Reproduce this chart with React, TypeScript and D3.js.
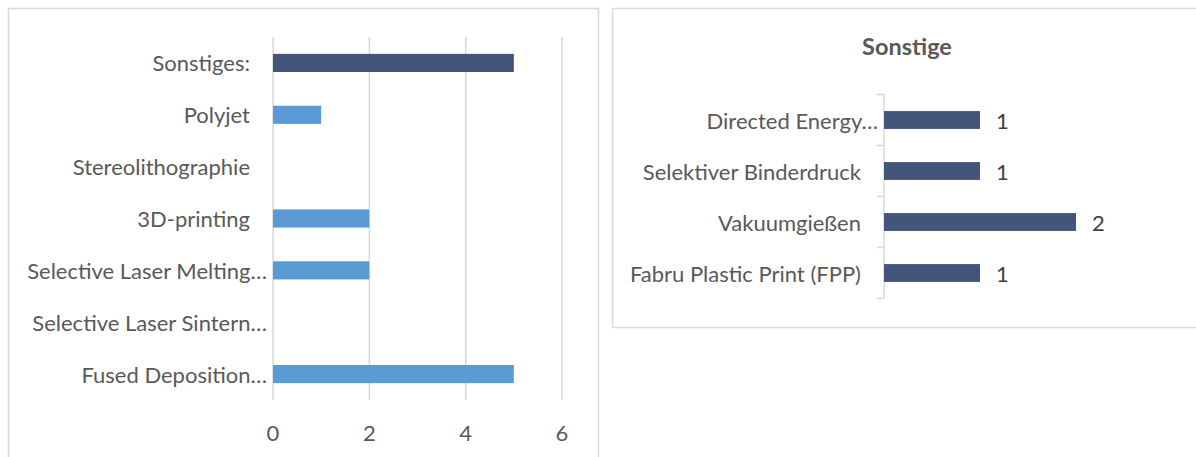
import React from 'react';
import * as d3 from 'd3';

// left chart
const techCategories = [
  'Sonstiges:',
  'Polyjet',
  'Stereolithographie',
  '3D-printing',
  'Selective Laser Melting…',
  'Selective Laser Sintern…',
  'Fused Deposition…',
];
const techValues = [5, 1, 0, 2, 2, 0, 5];
const techTicks = [0, 2, 4, 6];

// right chart
const otherCategories = [
  'Directed Energy…',
  'Selektiver Binderdruck',
  'Vakuumgießen',
  'Fabru Plastic Print (FPP)',
];
const otherValues = [1, 1, 2, 1];

const FONT = 'Lato, Carlito, Calibri, sans-serif';
const BORDER = '#d9d9d9';
const TEXT = '#595959';
const DARK = '#43557b';
const LIGHT = '#5b9bd5';
const FS = 22;

// truncated labels sit a bit further right, like Excel does it
const labelEnd = (c: string, axisX: number) => (c.endsWith('…') ? axisX - 6 : axisX - 23);

function App() {
  const x1 = d3.scaleLinear().domain([0, 6]).range([273, 562]);
  const y1 = d3
    .scaleBand()
    .domain(techCategories)
    .range([37, 400])
    .paddingInner(0.65)
    .paddingOuter(0.325);

  const x2 = d3.scaleLinear().domain([0, 2]).range([884, 1076]);
  const y2 = d3
    .scaleBand()
    .domain(otherCategories)
    .range([94.5, 298.5])
    .paddingInner(0.65)
    .paddingOuter(0.325);
  const bandEdges = otherCategories.map((c) => (y2(c) as number) - (y2.step() - y2.bandwidth()) / 2);
  bandEdges.push(298.5);

  return (
    <svg
      width={1196}
      height={457}
      style={{ position: 'absolute', left: 0, top: 0, background: '#fff' }}
      fontFamily={FONT}
    >
      {/* left chart frame */}
      <rect x={8.5} y={8.5} width={590} height={470} fill="#fff" stroke={BORDER} strokeWidth={1.5} />

      {techTicks.map((t) => (
        <line key={'g' + t} x1={x1(t)} x2={x1(t)} y1={37} y2={400} stroke={BORDER} strokeWidth={1.5} />
      ))}
      {techTicks.map((t) => (
        <text key={'t' + t} x={x1(t)} y={432} textAnchor="middle" dominantBaseline="central" fontSize={FS} fill={TEXT}>
          {t}
        </text>
      ))}

      {techCategories.map((c, i) => (
        <g key={c}>
          {techValues[i] > 0 && (
            <rect
              x={x1(0)}
              y={y1(c)}
              width={x1(techValues[i]) - x1(0)}
              height={y1.bandwidth()}
              fill={i === 0 ? DARK : LIGHT}
            />
          )}
          <text
            x={labelEnd(c, 273)}
            y={(y1(c) as number) + y1.bandwidth() / 2}
            textAnchor="end"
            dominantBaseline="central"
            fontSize={FS}
            fill={TEXT}
          >
            {c}
          </text>
        </g>
      ))}

      {/* right chart frame */}
      <rect x={612.5} y={8.5} width={590} height={319} fill="#fff" stroke={BORDER} strokeWidth={1.5} />
      <text x={907} y={46} textAnchor="middle" dominantBaseline="central" fontSize={23.5} fontWeight="bold" fill={TEXT}>
        Sonstige
      </text>

      <line x1={884} x2={884} y1={94.5} y2={298.5} stroke={BORDER} strokeWidth={1.5} />
      {bandEdges.map((e, i) => (
        <line key={'e' + i} x1={877} x2={884} y1={e} y2={e} stroke={BORDER} strokeWidth={1.5} />
      ))}

      {otherCategories.map((c, i) => {
        const cy = (y2(c) as number) + y2.bandwidth() / 2;
        return (
          <g key={c}>
            <rect x={x2(0)} y={y2(c)} width={x2(otherValues[i]) - x2(0)} height={y2.bandwidth()} fill={DARK} />
            <text x={labelEnd(c, 884)} y={cy} textAnchor="end" dominantBaseline="central" fontSize={FS} fill={TEXT}>
              {c}
            </text>
            <text x={x2(otherValues[i]) + 16} y={cy} dominantBaseline="central" fontSize={FS} fill="#404040">
              {otherValues[i]}
            </text>
          </g>
        );
      })}
    </svg>
  );
}

export default App;
